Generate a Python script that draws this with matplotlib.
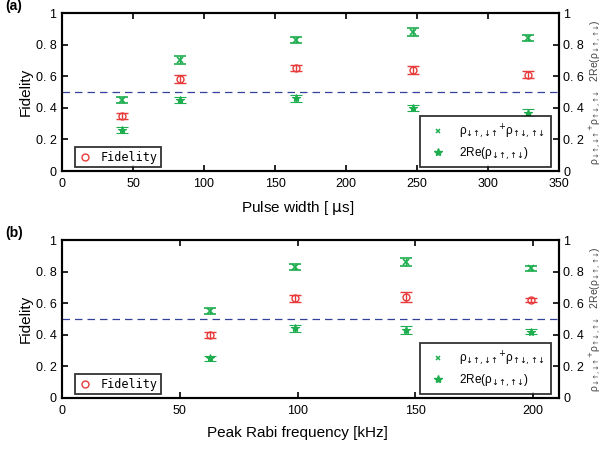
import matplotlib
matplotlib.use("Agg")
import matplotlib.pyplot as plt
import numpy as np

# Panel (a)
a_x = [42, 83, 165, 247, 328]
a_pop = [0.45, 0.70, 0.83, 0.88, 0.84]
a_pop_err = [0.02, 0.025, 0.02, 0.025, 0.02]
a_fid = [0.35, 0.58, 0.65, 0.64, 0.61]
a_fid_err = [0.02, 0.025, 0.02, 0.025, 0.02]
a_coh = [0.26, 0.45, 0.46, 0.40, 0.37]
a_coh_err = [0.02, 0.02, 0.02, 0.02, 0.02]

# Panel (b)
b_x = [63, 99, 146, 199]
b_pop = [0.55, 0.83, 0.86, 0.82]
b_pop_err = [0.02, 0.02, 0.025, 0.015]
b_fid = [0.40, 0.63, 0.64, 0.62]
b_fid_err = [0.02, 0.02, 0.03, 0.015]
b_coh = [0.25, 0.44, 0.43, 0.42]
b_coh_err = [0.015, 0.02, 0.025, 0.015]

y_ticks = [0, 0.2, 0.4, 0.6, 0.8, 1]
y_ticklabels = ['0', '0. 2', '0. 4', '0. 6', '0. 8', '1']

GREEN = '#1fae4f'
RED = '#e83a3a'
NAVY = '#33419a'
MONO = 'DejaVu Sans Mono'
SANS = 'Liberation Sans'
NARROW = ['Liberation Sans Narrow', 'Liberation Sans']

POP_LABEL = r'ρ$_{\mathrm{↓↑,↓↑}}$$^{+}$ρ$_{\mathrm{↑↓,↑↓}}$'
COH_LABEL = r'2Re(ρ$_{\mathrm{↓↑,↑↓}}$)'

fig = plt.figure(figsize=(6.05, 4.5), dpi=100)

def panel(rect, x, pop, pe, fid, fe, coh, ce, xlim, xticks, xlabel, tag):
    ax = fig.add_axes(rect)
    ax.axhline(0.5, color=NAVY, lw=0.9, ls=(0, (6, 4)), zorder=1)
    ax.errorbar(x, pop, yerr=pe, fmt='x', color=GREEN, ms=4, mew=1.2,
                capsize=4.5, elinewidth=1.0, capthick=1.0, zorder=3)
    ax.errorbar(x, fid, yerr=fe, fmt='o', color=RED, mfc='none', ms=5, mew=1.0,
                capsize=4.5, elinewidth=1.0, capthick=1.0, zorder=3)
    ax.errorbar(x, coh, yerr=ce, fmt='*', color=GREEN, ms=6, mew=0.8,
                capsize=4.5, elinewidth=1.0, capthick=1.0, zorder=3)
    ax.set_xlim(*xlim)
    ax.set_ylim(0, 1)
    ax.set_xticks(xticks)
    ax.set_yticks(y_ticks)
    ax.set_yticklabels(y_ticklabels, fontfamily=NARROW, fontsize=9)
    ax.set_xticklabels([str(t) for t in xticks], fontfamily=NARROW, fontsize=9)
    ax.tick_params(axis='x', direction='in', top=True, length=4, width=1.2, pad=5)
    ax.tick_params(axis='y', direction='in', length=4, width=1.2, pad=4)
    for s in ax.spines.values():
        s.set_linewidth(1.5)
    ax.set_xlabel(xlabel, fontfamily=SANS, fontsize=11)
    ax.xaxis.set_label_coords(0.473, -0.175)
    ax.set_ylabel('Fidelity', fontfamily=SANS, fontsize=11)
    ax.yaxis.set_label_coords(-0.058, 0.5)

    ax2 = ax.twinx()
    ax2.set_ylim(0, 1)
    ax2.set_yticks(y_ticks)
    ax2.set_yticklabels(y_ticklabels, fontfamily=NARROW, fontsize=9)
    ax2.tick_params(axis='y', direction='in', length=4, width=1.2, pad=3)
    for s in ax2.spines.values():
        s.set_linewidth(1.5)
    fig.text(0.985, rect[1] + rect[3] * 0.5,
             POP_LABEL + '   ' + COH_LABEL,
             rotation=90, ha='center', va='center', fontfamily=SANS,
             fontsize=7.5, color='#444444')

    # Fidelity legend (lower left)
    h_f = ax.plot([], [], 'o', color=RED, mfc='none', ms=5, mew=1.0)[0]
    leg1 = ax.legend([h_f], ['Fidelity'], loc='lower left', bbox_to_anchor=(0.02, 0.0),
                     frameon=True, fancybox=False, edgecolor='black',
                     prop={'family': MONO, 'size': 8.5}, handlelength=1.0,
                     borderpad=0.3, handletextpad=0.8, borderaxespad=0.3)
    leg1.get_frame().set_linewidth(1.3)
    ax.add_artist(leg1)
    h_p = ax.plot([], [], 'x', color=GREEN, ms=3.5, mew=1.1)[0]
    h_c = ax.plot([], [], '*', color=GREEN, ms=6)[0]
    leg2 = ax.legend([h_p, h_c], [POP_LABEL, COH_LABEL],
                     loc='lower right', bbox_to_anchor=(0.99, 0.0),
                     frameon=True, fancybox=False, edgecolor='black',
                     prop={'family': SANS, 'size': 8.5}, handlelength=2.0,
                     borderpad=0.5, labelspacing=0.4, handletextpad=0.8,
                     borderaxespad=0.3)
    leg2.get_frame().set_linewidth(1.3)
    fig.text(0.008, rect[1] + rect[3] + 0.015, tag, fontfamily=SANS, fontsize=10,
             fontweight='bold', va='center', ha='left')
    return ax

panel([0.1025, 0.62, 0.8215, 0.351], a_x, a_pop, a_pop_err, a_fid, a_fid_err,
      a_coh, a_coh_err, (0, 350), [0, 50, 100, 150, 200, 250, 300, 350],
      r'Pulse width [ $\mathrm{\mu}$s]', '(a)')
panel([0.1025, 0.1156, 0.8215, 0.351], b_x, b_pop, b_pop_err, b_fid, b_fid_err,
      b_coh, b_coh_err, (0, 211), [0, 50, 100, 150, 200],
      'Peak Rabi frequency [kHz]', '(b)')

fig.savefig('out.png', dpi=100)
